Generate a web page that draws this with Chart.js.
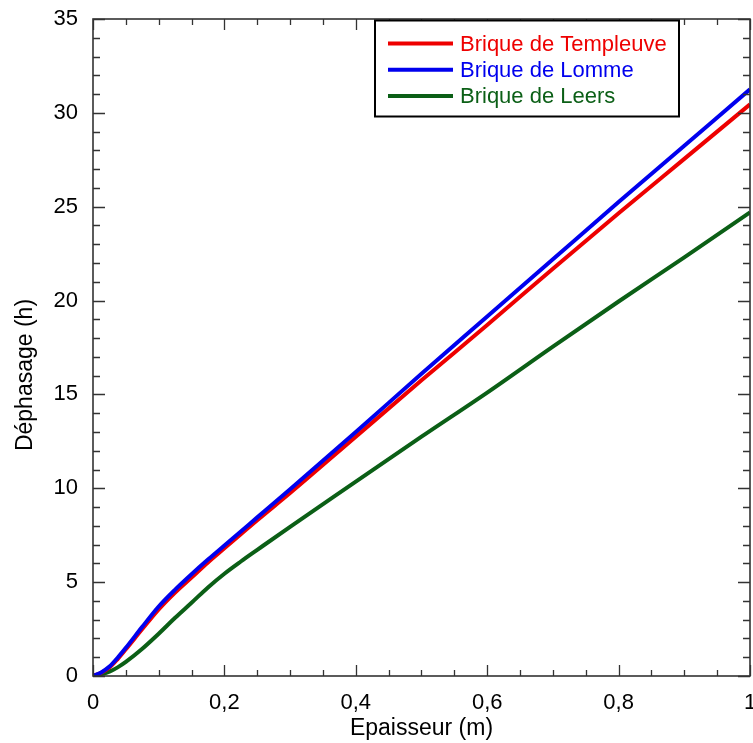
<!DOCTYPE html>
<html>
<head>
<meta charset="utf-8">
<script src="https://cdn.jsdelivr.net/npm/chart.js@4.4.1/dist/chart.umd.min.js"></script>
<style>
  html, body { margin: 0; padding: 0; background: #fff; }
  #wrap { width: 753px; height: 743px; position: relative; }
</style>
</head>
<body>
<div id="wrap"><canvas id="chartDephasage"></canvas></div>
<script>
// Epaisseur (m)
const epaisseur = [0, 0.0125, 0.025, 0.0375, 0.05, 0.075, 0.1, 0.125, 0.15, 0.175, 0.2, 0.225, 0.25, 0.3, 0.4, 0.5, 0.6, 0.7, 0.8, 0.9, 1.0];
// Déphasage (h) par brique
const templeuve = [0, 0.17, 0.45, 0.9, 1.42, 2.5, 3.55, 4.45, 5.25, 6.05, 6.8, 7.55, 8.3, 9.75, 12.75, 15.75, 18.7, 21.7, 24.65, 27.55, 30.45];
const lomme     = [0, 0.19, 0.5, 0.97, 1.5, 2.62, 3.7, 4.6, 5.42, 6.2, 6.95, 7.7, 8.45, 9.95, 13.0, 16.1, 19.15, 22.2, 25.25, 28.25, 31.25];
const leers     = [0, 0.09, 0.23, 0.46, 0.75, 1.45, 2.25, 3.1, 3.9, 4.72, 5.45, 6.1, 6.72, 7.95, 10.35, 12.75, 15.1, 17.55, 19.95, 22.3, 24.7];

const nomsSeries = ['Brique de Templeuve', 'Brique de Lomme', 'Brique de Leers'];
const couleurs = ['#ee0000', '#0000ee', '#0b5f16'];

const xTicks = [0, 0.2, 0.4, 0.6, 0.8, 1];
const yTicks = [0, 5, 10, 15, 20, 25, 30, 35];

const FONT = '"Liberation Sans", Arial, sans-serif';

function toPoints(vals) {
    return epaisseur.map((x, i) => ({ x: x, y: vals[i] }));
}

// ticks vers l'intérieur sur les 4 côtés + cadre + légende + titre Y
const cadrePlugin = {
    id: 'cadre',
    afterDatasetsDraw(chart) {
        const { ctx, chartArea: a, scales: { x, y } } = chart;
        ctx.save();
        ctx.strokeStyle = '#333';
        ctx.lineWidth = 1.3;
        ctx.beginPath();
        for (let v = 0; v <= 1.0001; v += 0.05) {
            const px = Math.round(x.getPixelForValue(v)) + 0.5;
            const major = Math.abs(v * 5 - Math.round(v * 5)) < 1e-6;
            const len = major ? 11 : 6;
            ctx.moveTo(px, a.bottom); ctx.lineTo(px, a.bottom - len);
            ctx.moveTo(px, a.top); ctx.lineTo(px, a.top + len);
        }
        for (let v = 0; v <= 35; v += 1) {
            const py = Math.round(y.getPixelForValue(v)) + 0.5;
            const len = (v % 5 === 0) ? 12 : 7;
            ctx.moveTo(a.left, py); ctx.lineTo(a.left + len, py);
            ctx.moveTo(a.right, py); ctx.lineTo(a.right - len, py);
        }
        ctx.stroke();
        ctx.lineWidth = 1.6;
        ctx.strokeRect(a.left, a.top, a.right - a.left, a.bottom - a.top);

        // légende
        const lx = a.left + 282, ly = a.top + 1.5;
        ctx.lineWidth = 2;
        ctx.strokeStyle = '#000';
        ctx.fillStyle = '#fff';
        ctx.fillRect(lx, ly, 304, 96);
        ctx.strokeRect(lx, ly, 304, 96);
        ctx.font = '22px ' + FONT;
        ctx.textBaseline = 'middle';
        nomsSeries.forEach((nom, i) => {
            const yy = ly + 23 + i * 26.2;
            ctx.strokeStyle = couleurs[i];
            ctx.lineWidth = 4;
            ctx.beginPath();
            ctx.moveTo(lx + 13, yy); ctx.lineTo(lx + 78, yy);
            ctx.stroke();
            ctx.fillStyle = couleurs[i];
            ctx.fillText(nom, lx + 85, yy + 1);
        });

        // titre axe Y
        ctx.translate(26, 375);
        ctx.rotate(-Math.PI / 2);
        ctx.fillStyle = '#000';
        ctx.font = '23px ' + FONT;
        ctx.textAlign = 'center';
        ctx.textBaseline = 'middle';
        ctx.fillText('Déphasage (h)', 0, 0);
        ctx.restore();
    }
};

document.addEventListener('DOMContentLoaded', function() {
    try {
        const el = document.getElementById('chartDephasage');
        new Chart(el.getContext('2d'), {
            type: 'line',
            data: {
                datasets: [
                    { label: nomsSeries[0], data: toPoints(templeuve), borderColor: couleurs[0], order: 1 },
                    { label: nomsSeries[1], data: toPoints(lomme), borderColor: couleurs[1], order: 0 },
                    { label: nomsSeries[2], data: toPoints(leers), borderColor: couleurs[2], order: 2 }
                ]
            },
            options: {
                responsive: true,
                maintainAspectRatio: false,
                animation: false,
                layout: { padding: { top: 19, right: 3, left: 0, bottom: 0 } },
                elements: {
                    point: { radius: 0 },
                    line: { borderWidth: 4, cubicInterpolationMode: 'monotone' }
                },
                plugins: { legend: { display: false }, tooltip: { enabled: false } },
                scales: {
                    x: {
                        type: 'linear',
                        min: 0, max: 1,
                        grid: { display: false, drawTicks: false },
                        border: { display: false },
                        afterBuildTicks: s => { s.ticks = xTicks.map(v => ({ value: v })); },
                        afterFit: s => { s.height = 67; s.paddingLeft = 0; s.paddingRight = 0; },
                        ticks: {
                            padding: 14,
                            color: '#000',
                            font: { family: FONT, size: 22 },
                            maxRotation: 0,
                            callback: v => String(Math.round(v * 10) / 10).replace('.', ',')
                        },
                        title: {
                            display: true, text: 'Epaisseur (m)', color: '#000',
                            font: { family: FONT, size: 23 }, padding: { top: 0, bottom: 1 }
                        }
                    },
                    y: {
                        type: 'linear',
                        min: 0, max: 35,
                        grid: { display: false, drawTicks: false },
                        border: { display: false },
                        afterBuildTicks: s => { s.ticks = yTicks.map(v => ({ value: v })); },
                        afterFit: s => { s.width = 93; s.paddingTop = 0; s.paddingBottom = 0; },
                        ticks: {
                            padding: 15,
                            color: '#000',
                            font: { family: FONT, size: 22 }
                        },
                        title: { display: false }
                    }
                }
            },
            plugins: [cadrePlugin]
        });
    } catch (e) { console.error('Erreur graphique déphasage:', e); }
});
</script>
</body>
</html>
